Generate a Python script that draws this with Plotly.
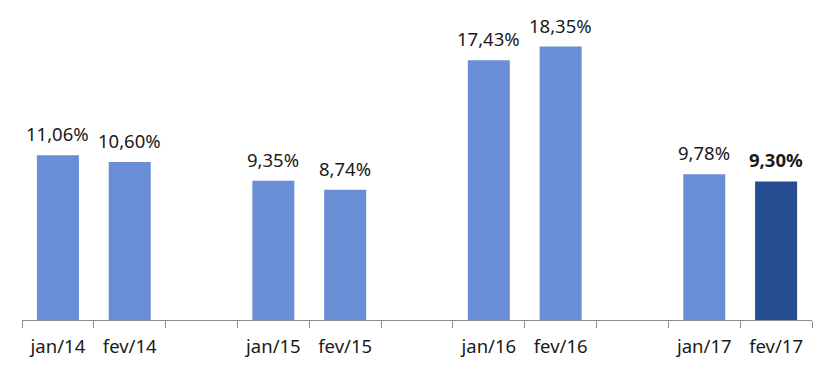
import plotly.graph_objects as go

categories = ["jan/14", "fev/14", " ", "jan/15", "fev/15", "  ", "jan/16", "fev/16", "   ", "jan/17", "fev/17"]
bar_categories = ["jan/14", "fev/14", "jan/15", "fev/15", "jan/16", "fev/16", "jan/17", "fev/17"]
values = [11.06, 10.60, 9.35, 8.74, 17.43, 18.35, 9.78, 9.30]
highlight = [False, False, False, False, False, False, False, True]

base_color = "#6A8ED6"
hi_color = "#264D91"
colors = [hi_color if h else base_color for h in highlight]
labels = []
for v, h in zip(values, highlight):
    s = f"{v:.2f}%".replace(".", ",")
    labels.append(f"<b>{s}</b>" if h else s)

FONT = "Noto Sans"
fig = go.Figure()
fig.add_trace(go.Bar(
    x=bar_categories, y=values, marker=dict(color=colors, line=dict(width=0)),
    width=0.585, hoverinfo="skip",
))
for c, v, t in zip(bar_categories, values, labels):
    fig.add_annotation(x=c, y=v, text=t, showarrow=False, yanchor="bottom", yshift=7,
                       font=dict(family=FONT, size=18.5, color="#1a1a1a"))

fig.update_layout(
    width=834, height=372,
    margin=dict(l=14, r=30, t=14, b=60),
    paper_bgcolor="white", plot_bgcolor="white",
    showlegend=False,
    xaxis=dict(type="category", categoryorder="array", categoryarray=categories,
               range=[-0.5, len(categories) - 0.5],
               showline=True, linecolor="#8c8c8c", linewidth=1,
               ticks="outside", tickson="boundaries", ticklen=7, tickcolor="#8c8c8c",
               ticklabelstandoff=10,
               tickfont=dict(family=FONT, size=18.5, color="#1a1a1a"),
               showgrid=False, zeroline=False),
    yaxis=dict(range=[0, 20], visible=False, showgrid=False, zeroline=False),
)
fig.write_html("out.html")
